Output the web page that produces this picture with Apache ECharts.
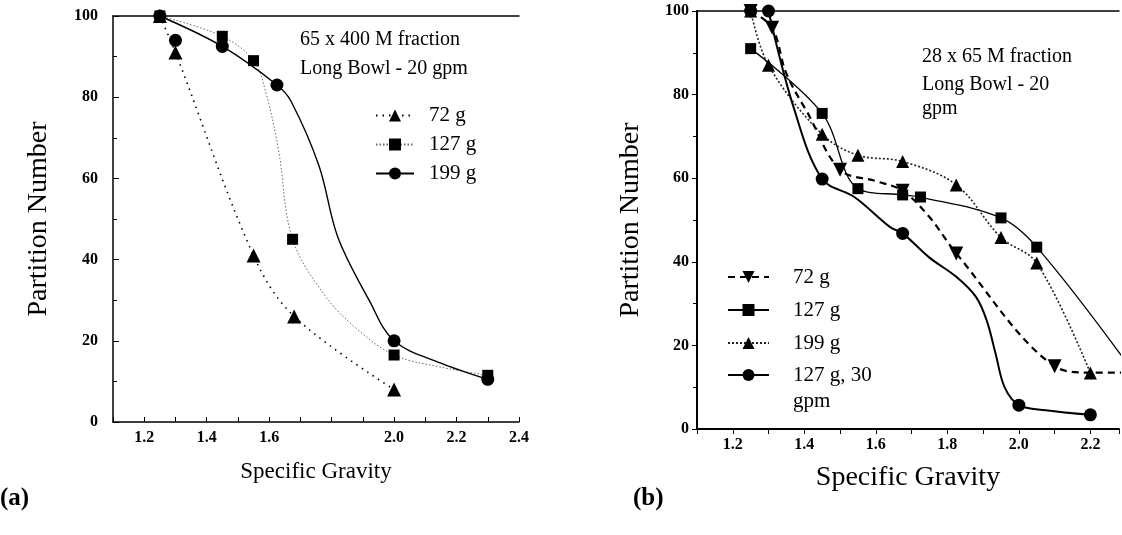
<!DOCTYPE html>
<html>
<head>
<meta charset="utf-8">
<script src="https://cdn.jsdelivr.net/npm/echarts@6/dist/echarts.min.js"></script>
<style>
html,body{margin:0;padding:0;background:#fff;}
#chart{width:1122px;height:535px;}
</style>
</head>
<body>
<div id="chart"></div>
<script>
// ---------- Panel (a): 65 x 400 M fraction, Long Bowl - 20 gpm ----------
const a72 = [[1.25,100],[1.30,91],[1.55,41],[1.68,26],[2.00,8]];
const a127 = [[1.25,100],[1.45,95],[1.55,89],[1.675,45],[2.00,16.5],[2.30,11.5]];
const a127Curve = [[1.25,100],[1.45,95],[1.55,89],[1.59,81],[1.63,67],[1.675,45],[1.78,31],[1.88,23],[2.00,16.5],[2.15,13.5],[2.30,11.5]];
const a199 = [[1.25,100],[1.30,94],[1.45,92.5],[1.625,83],[2.00,20],[2.30,10.5]];
const a199Curve = [[1.25,100],[1.45,92.5],[1.625,83],[1.67,79],[1.76,63],[1.82,45.5],[1.92,30],[2.00,20],[2.15,14.5],[2.30,10.5]];

// ---------- Panel (b): 28 x 65 M fraction, Long Bowl - 20 gpm ----------
const b72 = [[1.25,100],[1.31,96],[1.50,62],[1.675,57],[1.825,42],[2.10,15]];
const b72Curve = [[1.25,100],[1.31,96],[1.35,85],[1.41,75.5],[1.50,62],[1.60,59.3],[1.675,57],[1.75,50.7],[1.825,42],[2.10,15],[2.20,13.5],[2.30,13.5]];
const b127 = [[1.25,91],[1.45,75.5],[1.55,57.5],[1.675,56],[1.725,55.5],[1.95,50.5],[2.05,43.5]];
const b127Curve = [[1.25,91],[1.45,75.5],[1.55,57.5],[1.675,56],[1.725,55.5],[1.95,50.5],[2.05,43.5],[2.30,16]];
const b199 = [[1.25,100],[1.30,87],[1.45,70.5],[1.55,65.5],[1.675,64],[1.825,58.4],[1.95,45.8],[2.05,39.7],[2.20,13.4]];
const b30 = [[1.25,100],[1.30,100],[1.45,59.8],[1.675,46.8],[2.00,5.7],[2.20,3.4]];
const b30Curve = [[1.30,100],[1.37,77],[1.45,59.8],[1.54,55.5],[1.64,48.3],[1.675,46.8],[1.75,41],[1.825,36.4],[1.88,31.6],[1.91,26],[1.935,18],[1.96,10],[2.00,5.7],[2.075,4.5],[2.20,3.4]];

// ---------- Text ----------
const seriesNamesA = ['72 g','127 g','199 g'];
const seriesNamesB = ['72 g','127 g','199 g'];
const seriesNameB30 = '127 g, 30\ngpm';
const xTitle = 'Specific Gravity';
const yTitle = 'Partition Number';
const noteA = ['65 x 400 M fraction','Long Bowl - 20 gpm'];
const noteB = ['28 x 65 M fraction','Long Bowl - 20','gpm'];
const panelLabels = ['(a)','(b)'];
const hiddenTickA = [18]; // panel (a) has no "1.8" label

const SERIF = "'Liberation Serif','Times New Roman',serif";
const BLACK = '#000';

function xFmt(hidden){
  return function(v){
    const r = Math.round(v*10);
    if (r < 12 || r % 2 !== 0 || hidden.indexOf(r) >= 0) return '';
    return (r/10).toFixed(1);
  };
}
const tickLabel = {color:BLACK, fontFamily:SERIF, fontWeight:'bold', fontSize:16};
const stripPrefix = function(n){ return n.replace(/^[ab]:/,''); };
// blank first line so that the first text line sits level with the icon
const stripPrefixTopAligned = function(n){ return ' \n' + n.replace(/^[ab]:/,''); };

const chart = echarts.init(document.getElementById('chart'), null, {renderer:'canvas'});

function curveSeries(name, data, xi, yi, symbol, size, line, rotate){
  return {name, type:'line', xAxisIndex:xi, yAxisIndex:yi, data, smooth:0.35,
    showSymbol:false, symbol, symbolSize:size, symbolRotate:rotate||0,
    itemStyle:{color:BLACK}, lineStyle:line, silent:true, z:2};
}
function markerSeries(name, data, xi, yi, symbol, size, rotate){
  return {name, type:'scatter', xAxisIndex:xi, yAxisIndex:yi, data, symbol, symbolSize:size,
    symbolRotate:rotate||0, itemStyle:{color:BLACK, opacity:1}, silent:true, z:3};
}

const option = {
  backgroundColor:'#fff',
  animation:false,
  grid:[
    {left:113, top:16, width:406, height:406},
    {left:697, top:11, width:425, height:418}
  ],
  xAxis:[
    {gridIndex:0, type:'value', min:1.1, max:2.4, interval:0.1, position:'bottom',
     axisLine:{show:true, lineStyle:{color:BLACK, width:1.5}},
     axisTick:{show:true, inside:true, length:5, lineStyle:{color:BLACK}},
     axisLabel:{...tickLabel, margin:8, formatter:xFmt(hiddenTickA), showMinLabel:true, showMaxLabel:true},
     splitLine:{show:false},
     name:xTitle, nameLocation:'middle', nameGap:38,
     nameTextStyle:{color:BLACK, fontFamily:SERIF, fontSize:23}},
    {gridIndex:0, type:'value', min:1.1, max:2.4, position:'top',
     axisLine:{show:true, lineStyle:{color:BLACK, width:1.5}},
     axisTick:{show:false}, axisLabel:{show:false}, splitLine:{show:false}},
    {gridIndex:1, type:'value', min:1.1, max:2.28, interval:0.1, position:'bottom',
     axisLine:{show:true, lineStyle:{color:BLACK, width:2}},
     axisTick:{show:true, inside:false, length:5, lineStyle:{color:BLACK}},
     axisLabel:{...tickLabel, margin:8, formatter:xFmt([])},
     splitLine:{show:false},
     name:xTitle, nameLocation:'middle', nameGap:35,
     nameTextStyle:{color:BLACK, fontFamily:SERIF, fontSize:28}},
    {gridIndex:1, type:'value', min:1.1, max:2.28, position:'top',
     axisLine:{show:true, lineStyle:{color:BLACK, width:1.5}},
     axisTick:{show:false}, axisLabel:{show:false}, splitLine:{show:false}}
  ],
  yAxis:[
    {gridIndex:0, type:'value', min:0, max:100, interval:20,
     axisLine:{show:true, lineStyle:{color:BLACK, width:1.5}},
     axisTick:{show:true, inside:true, length:6, lineStyle:{color:BLACK}},
     minorTick:{show:true, splitNumber:2, length:4, lineStyle:{color:BLACK}},
     axisLabel:{...tickLabel, margin:15},
     splitLine:{show:false},
     name:yTitle, nameLocation:'middle', nameGap:60, nameRotate:90,
     nameTextStyle:{color:BLACK, fontFamily:SERIF, fontSize:28}},
    {gridIndex:1, type:'value', min:0, max:100, interval:20,
     axisLine:{show:true, lineStyle:{color:BLACK, width:2}},
     axisTick:{show:true, inside:false, length:5, lineStyle:{color:BLACK}},
     minorTick:{show:true, splitNumber:2, length:4, lineStyle:{color:BLACK}},
     axisLabel:{...tickLabel, margin:8},
     splitLine:{show:false},
     name:yTitle, nameLocation:'middle', nameGap:52, nameRotate:90,
     nameTextStyle:{color:BLACK, fontFamily:SERIF, fontSize:28}}
  ],
  legend:[
    {left:370, top:100, orient:'vertical', itemWidth:38, itemHeight:15, itemGap:8,
     selectedMode:false, formatter:stripPrefix,
     textStyle:{color:BLACK, fontFamily:SERIF, fontSize:21, padding:[0,0,0,10]},
     data:seriesNamesA.map(n=>'a:'+n)},
    {left:722, top:260, orient:'vertical', itemWidth:41, itemHeight:15, itemGap:9,
     selectedMode:false, formatter:stripPrefix,
     textStyle:{color:BLACK, fontFamily:SERIF, fontSize:21, lineHeight:24, padding:[0,0,0,19]},
     data:seriesNamesB.map(n=>'b:'+n)},
    {left:722, top:331, orient:'vertical', itemWidth:41, itemHeight:15,
     selectedMode:false, formatter:stripPrefixTopAligned,
     textStyle:{color:BLACK, fontFamily:SERIF, fontSize:21, lineHeight:26, padding:[0,0,0,19]},
     data:['b:'+seriesNameB30]}
  ],
  graphic:[
    {type:'text', left:300, top:30, style:{text:noteA[0], font:'20px '+SERIF, fill:BLACK}},
    {type:'text', left:300, top:59, style:{text:noteA[1], font:'20px '+SERIF, fill:BLACK}},
    {type:'text', left:922, top:47, style:{text:noteB[0], font:'20px '+SERIF, fill:BLACK}},
    {type:'text', left:922, top:75, style:{text:noteB[1], font:'20px '+SERIF, fill:BLACK}},
    {type:'text', left:922, top:99, style:{text:noteB[2], font:'20px '+SERIF, fill:BLACK}},
    {type:'text', left:0, top:486, style:{text:panelLabels[0], font:'bold 25px '+SERIF, fill:BLACK}},
    {type:'text', left:633, top:486, style:{text:panelLabels[1], font:'bold 25px '+SERIF, fill:BLACK}}
  ],
  series:[
    // panel (a)
    curveSeries('a:127 g', a127Curve, 0, 0, 'rect', 11, {color:'#666', width:1, type:[1.5,2]}),
    curveSeries('a:199 g', a199Curve, 0, 0, 'circle', 13, {color:BLACK, width:1.4, type:'solid'}),
    curveSeries('a:72 g', a72, 0, 0, 'triangle', 14, {color:BLACK, width:1.6, type:[1.5,5]}),
    markerSeries('a127 pts', a127, 0, 0, 'rect', 11),
    markerSeries('a199 pts', a199, 0, 0, 'circle', 13),
    markerSeries('a72 pts', a72, 0, 0, 'triangle', 14),
    // panel (b)
    curveSeries('b:127 g', b127Curve, 2, 1, 'rect', 11, {color:BLACK, width:1.3, type:'solid'}),
    curveSeries('b:199 g', b199, 2, 1, 'triangle', 13, {color:'#222', width:1.6, type:[2,2]}),
    curveSeries('b:72 g', b72Curve, 2, 1, 'triangle', 14, {color:BLACK, width:2.2, type:[7,5]}, 180),
    curveSeries('b:'+seriesNameB30, b30Curve, 2, 1, 'circle', 13, {color:BLACK, width:2, type:'solid'}),
    markerSeries('b127 pts', b127, 2, 1, 'rect', 11),
    markerSeries('b199 pts', b199, 2, 1, 'triangle', 13),
    markerSeries('b72 pts', b72, 2, 1, 'triangle', 14, 180),
    markerSeries('b30 pts', b30, 2, 1, 'circle', 13)
  ]
};
chart.setOption(option);
</script>
</body>
</html>
